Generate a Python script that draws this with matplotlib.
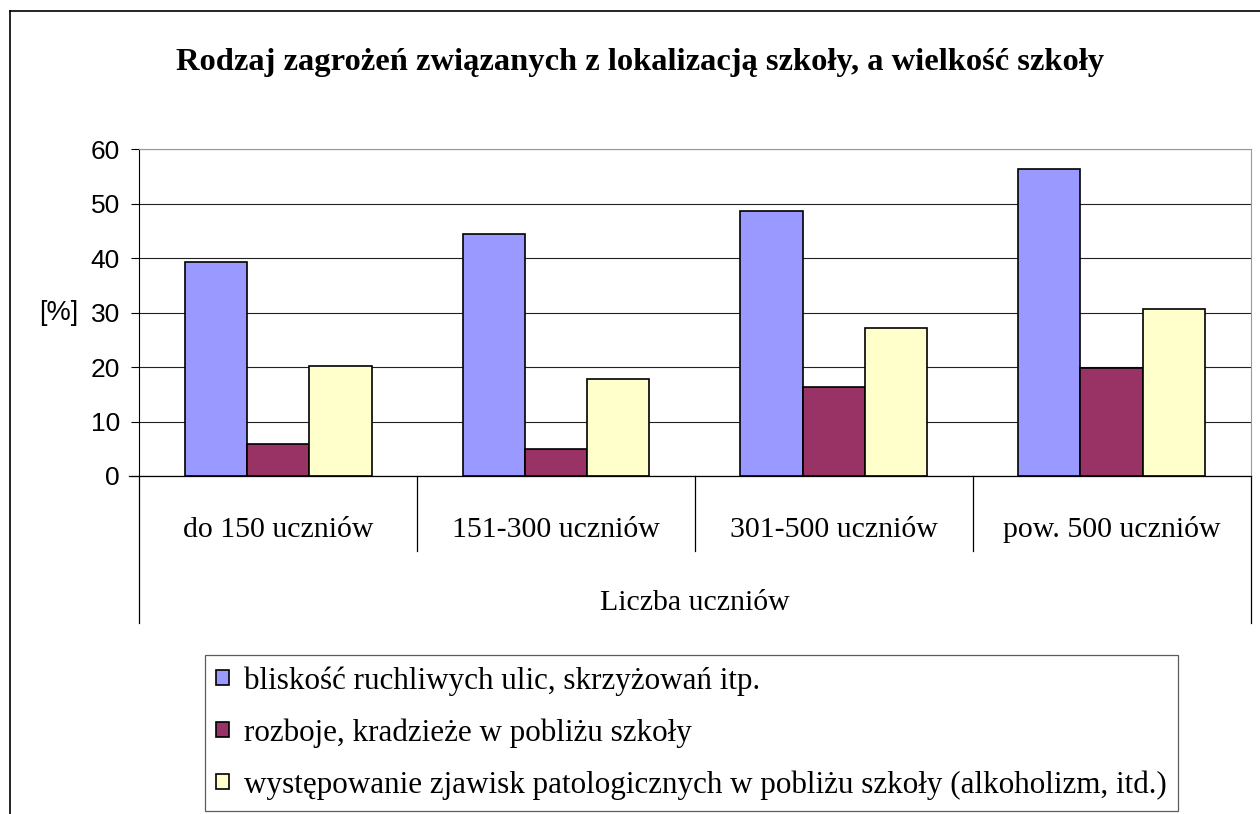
import matplotlib.pyplot as plt
import numpy as np
from matplotlib.lines import Line2D
from matplotlib.patches import Patch

#----------------------------------------------------------------------------------------#
# data

categories = ['do 150 uczniów', '151-300 uczniów', '301-500 uczniów', 'pow. 500 uczniów']
series_names = ['bliskość ruchliwych ulic, skrzyżowań itp.',
                'rozboje, kradzieże w pobliżu szkoły',
                'występowanie zjawisk patologicznych w pobliżu szkoły (alkoholizm, itd.)']
bliskosc = [39.3, 44.4, 48.7, 56.4]
rozboje = [5.8, 5.0, 16.3, 19.8]
patologie = [20.2, 17.9, 27.2, 30.7]
yticks = [0, 10, 20, 30, 40, 50, 60]

colors = ['#9999FF', '#993366', '#FFFFCC']

W, H = 1260, 814
serif = 'Liberation Serif'
sans = 'Liberation Sans'

#----------------------------------------------------------------------------------------#

fig = plt.figure(figsize=(W / 100, H / 100), dpi=100)

# outer chart frame
fig.add_artist(Line2D([10 / W, 10 / W], [0, 1 - 11 / H], color='black', lw=1.2))
fig.add_artist(Line2D([10 / W, 1], [1 - 11 / H, 1 - 11 / H], color='black', lw=1.2))

ax = fig.add_axes([139.3 / W, 1 - 476 / H, 1111.2 / W, 326.7 / H])

x = np.arange(len(categories))
w = 0.224
for i, vals in enumerate([bliskosc, rozboje, patologie]):
    ax.bar(x + (i - 1) * w, vals, w, color=colors[i], edgecolor='black', lw=1.2,
           label=series_names[i], zorder=3)

ax.set_xlim(-0.5, len(categories) - 0.5)
ax.set_ylim(0, 60)
ax.set_yticks(yticks)
ax.set_yticklabels([str(v) for v in yticks], fontfamily=sans, fontsize=19)
ax.tick_params(axis='y', length=6, width=0.8, pad=8)
ax.set_xticks([])
ax.grid(axis='y', color='#222222', lw=0.8, zorder=0)

ax.spines['top'].set_color('#999999')
ax.spines['right'].set_color('#999999')
ax.spines['left'].set_color('black')
ax.spines['bottom'].set_visible(False)
ax.plot([-0.5 - 10 / 277.8, len(categories) - 0.5], [0, 0], color='black', lw=0.9,
        clip_on=False, zorder=4)

# category separators
tr = ax.get_xaxis_transform()
for k in range(1, len(categories)):
    ax.plot([k - 0.5, k - 0.5], [0, -0.2296], color='black', lw=0.9, transform=tr, clip_on=False)
for k in [-0.5, len(categories) - 0.5]:
    ax.plot([k, k], [0, -0.450], color='black', lw=0.9, transform=tr, clip_on=False)

for k, c in enumerate(categories):
    ax.text(k, -0.165, c, transform=tr, ha='center', va='center', fontfamily=serif, fontsize=21.5)
ax.text((len(categories) - 1) / 2, -0.389, 'Liczba uczniów', transform=tr, ha='center',
        va='center', fontfamily=serif, fontsize=21.5)

fig.text(58.5 / W, 1 - 313 / H, '[%]', ha='center', va='center', fontfamily=sans, fontsize=19.5)

fig.text(640 / W, 1 - 70 / H, 'Rodzaj zagrożeń związanych z lokalizacją szkoły, a wielkość szkoły',
         ha='center', va='baseline', fontfamily=serif, fontweight='bold', fontsize=23.4)

handles = [Patch(facecolor=colors[i], edgecolor='black', lw=1.2) for i in range(3)]
leg = fig.legend(handles, series_names, loc='upper left', bbox_to_anchor=(205 / W, 1 - 655 / H),
                 prop={'family': serif, 'size': 22.4}, frameon=True, fancybox=False,
                 edgecolor='#333333', handlelength=0.4, handleheight=0.4, handletextpad=0.5,
                 labelspacing=0.72, borderpad=0.36, borderaxespad=0)
leg.get_frame().set_linewidth(0.9)

plt.savefig('out.png')
